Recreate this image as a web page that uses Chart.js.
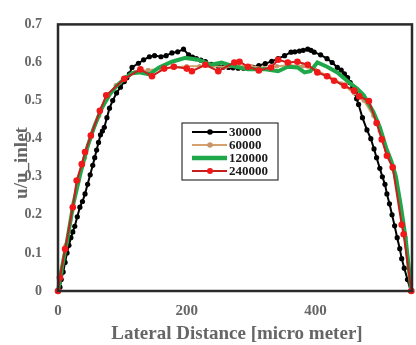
<!DOCTYPE html>
<html>
<head>
<meta charset="utf-8">
<script src="https://cdn.jsdelivr.net/npm/chart.js@4.4.1/dist/chart.umd.min.js"></script>
<style>
html,body{margin:0;padding:0;background:#fff;}
#c{display:block;}
</style>
</head>
<body>
<canvas id="c" width="416" height="345"></canvas>
<script>
// ---- data ----
const xTicks = [0, 200, 400];
const yTicks = [0, 0.1, 0.2, 0.3, 0.4, 0.5, 0.6, 0.7];
const seriesNames = ['30000', '60000', '120000', '240000'];

const lat30000 = [0,3,5,8,11,14,17,20,23,26,30,34,38,42,46,50,54,57,60,63,66,69,72,76,80,85,91,97,103,107,111,115,125,133,142,150,160,168,177,186,195,203,209,215,222,229,238,249,257,265,272,280,288,295,303,312,322,332,342,352,362,368,375,381,388,393,398,408,418,426,434,440,445,450,454,458,462,464,467,473,480,486,491,495,500,504,508,511,515,519,523,527,531,534,538,543,548];
const vel30000 = [0,0.01,0.03,0.05,0.075,0.10,0.12,0.14,0.155,0.17,0.195,0.22,0.235,0.255,0.28,0.305,0.33,0.35,0.37,0.39,0.41,0.42,0.43,0.455,0.48,0.5,0.52,0.535,0.55,0.56,0.57,0.587,0.598,0.607,0.615,0.618,0.615,0.618,0.625,0.628,0.635,0.62,0.614,0.61,0.606,0.602,0.595,0.59,0.588,0.587,0.586,0.585,0.585,0.585,0.587,0.592,0.597,0.603,0.61,0.618,0.627,0.628,0.63,0.632,0.635,0.632,0.627,0.62,0.61,0.6,0.587,0.58,0.57,0.56,0.547,0.535,0.52,0.505,0.49,0.455,0.423,0.4,0.373,0.35,0.322,0.3,0.28,0.255,0.229,0.2,0.171,0.14,0.111,0.085,0.06,0.03,0];

const lat60000 = [0,5,12,22,32,42,52,64,76,90,104,120,140,160,180,200,220,240,260,280,300,320,340,360,380,400,420,440,460,475,490,500,510,520,530,540,549];
const vel60000 = [0,0.05,0.12,0.21,0.29,0.35,0.405,0.46,0.505,0.54,0.56,0.575,0.58,0.583,0.587,0.59,0.59,0.59,0.588,0.59,0.59,0.585,0.59,0.593,0.59,0.58,0.565,0.545,0.52,0.5,0.46,0.42,0.37,0.32,0.24,0.14,0];

const lat120000 = [0,6,14,24,35,46,56,68,80,92,105,115,126,142,157,177,198,218,238,254,275,295,322,342,357,372,383,392,403,418,434,449,465,475,490,500,510,518,525,533,540,549];
const vel120000 = [0,0.06,0.13,0.23,0.31,0.38,0.43,0.48,0.515,0.54,0.56,0.572,0.574,0.569,0.587,0.602,0.612,0.607,0.594,0.6,0.589,0.582,0.582,0.577,0.589,0.587,0.574,0.577,0.6,0.589,0.574,0.552,0.531,0.514,0.47,0.43,0.375,0.34,0.30,0.22,0.14,0];

const lat240000 = [0,3,11,23,29,37,42,51,65,75,103,128,146,165,180,200,208,229,249,274,282,295,312,331,342,357,372,388,403,418,429,445,460,468,483,495,503,511,520,534,537,549];
const vel240000 = [0,0.035,0.11,0.22,0.29,0.333,0.365,0.408,0.473,0.514,0.557,0.582,0.564,0.584,0.589,0.584,0.577,0.594,0.577,0.6,0.602,0.589,0.579,0.587,0.607,0.6,0.602,0.594,0.574,0.564,0.552,0.539,0.526,0.511,0.499,0.441,0.398,0.355,0.325,0.174,0.149,0];

function pts(xs, ys){ return xs.map((x,i)=>({x:x, y:ys[i]})); }

const colors = {
  '30000':  {line:'#000000', pt:'#000000'},
  '60000':  {line:'#d4a06e', pt:'#c8956a'},
  '120000': {line:'#1ea84a', pt:'#1ea84a'},
  '240000': {line:'#c81e1e', pt:'#f01818'}
};

Chart.defaults.font.family = '"Liberation Serif", "Times New Roman", serif';
Chart.defaults.font.weight = 'bold';

const framePlugin = {
  id: 'frameAndText',
  afterDraw(chart){
    const ctx = chart.ctx, a = chart.chartArea;
    ctx.save();
    // frame
    ctx.strokeStyle = '#2a2a2a';
    ctx.lineWidth = 2.5;
    ctx.strokeRect(a.left, a.top, a.right - a.left, a.bottom - a.top);
    // axis titles
    ctx.fillStyle = '#666666';
    ctx.font = 'bold 19px "Liberation Serif", serif';
    ctx.textAlign = 'center';
    ctx.textBaseline = 'alphabetic';
    ctx.fillText('Lateral Distance [micro meter]', 237, 339);
    ctx.save();
    ctx.translate(27, 163);
    ctx.rotate(-Math.PI/2);
    ctx.fillText('u/u_inlet', 0, 0);
    ctx.restore();
    // legend
    const bx = 182, by = 123, bw = 96, bh = 57;
    ctx.fillStyle = '#ffffff';
    ctx.fillRect(bx, by, bw, bh);
    ctx.strokeStyle = '#333333';
    ctx.lineWidth = 1.2;
    ctx.strokeRect(bx, by, bw, bh);
    const rows = [132, 145, 158, 171];
    const widths = [2, 2, 4.5, 2];
    const marks = [2.8, 2.8, 0, 3];
    ctx.font = 'bold 13px "Liberation Serif", serif';
    ctx.textAlign = 'left';
    ctx.textBaseline = 'middle';
    seriesNames.forEach((n, i) => {
      const y = rows[i];
      ctx.strokeStyle = colors[n].line;
      ctx.lineWidth = widths[i];
      ctx.beginPath(); ctx.moveTo(192, y); ctx.lineTo(227, y); ctx.stroke();
      if (marks[i] > 0) {
        ctx.fillStyle = colors[n].pt;
        ctx.beginPath(); ctx.arc(210, y, marks[i], 0, Math.PI*2); ctx.fill();
      }
      ctx.fillStyle = '#1a1a1a';
      ctx.fillText(n, 229, y + 1);
    });
    ctx.restore();
  }
};

new Chart(document.getElementById('c'), {
  type: 'line',
  data: {
    datasets: [
      {label: seriesNames[3], data: pts(lat240000, vel240000), borderColor: colors['240000'].line, borderWidth: 2,
       pointRadius: 3.3, pointBackgroundColor: colors['240000'].pt, pointBorderWidth: 0, order: 0, clip: false},
      {label: seriesNames[2], data: pts(lat120000, vel120000), borderColor: colors['120000'].line, borderWidth: 4,
       pointRadius: 0, order: 1, clip: false},
      {label: seriesNames[1], data: pts(lat60000, vel60000), borderColor: colors['60000'].line, borderWidth: 2,
       pointRadius: 2.3, pointBackgroundColor: colors['60000'].pt, pointBorderWidth: 0, order: 2, clip: false},
      {label: seriesNames[0], data: pts(lat30000, vel30000), borderColor: colors['30000'].line, borderWidth: 2,
       pointRadius: 2.6, pointBackgroundColor: colors['30000'].pt, pointBorderWidth: 0, order: 3, clip: false}
    ]
  },
  options: {
    responsive: false,
    animation: false,
    devicePixelRatio: 1,
    parsing: true,
    layout: {padding: {top: 12, right: 1, left: 0, bottom: 0}},
    plugins: {legend: {display: false}, tooltip: {enabled: false}},
    elements: {line: {tension: 0}},
    scales: {
      x: {
        type: 'linear', min: 0, max: 550,
        grid: {display: false, drawTicks: false},
        border: {display: false},
        afterBuildTicks(s){ s.ticks = xTicks.map(v => ({value: v})); },
        afterFit(s){ s.height = 54; },
        ticks: {color: '#666666', font: {size: 15, weight: 'bold'}, padding: 11, maxRotation: 0}
      },
      y: {
        type: 'linear', min: 0, max: 0.7,
        grid: {display: false, drawTicks: false},
        border: {display: false},
        afterBuildTicks(s){ s.ticks = yTicks.map(v => ({value: v})); },
        afterFit(s){ s.width = 58; },
        ticks: {color: '#666666', font: {size: 14, weight: 'bold'}, padding: 16,
                callback: v => String(Math.round(v*10)/10)}
      }
    }
  },
  plugins: [framePlugin]
});
</script>
</body>
</html>
